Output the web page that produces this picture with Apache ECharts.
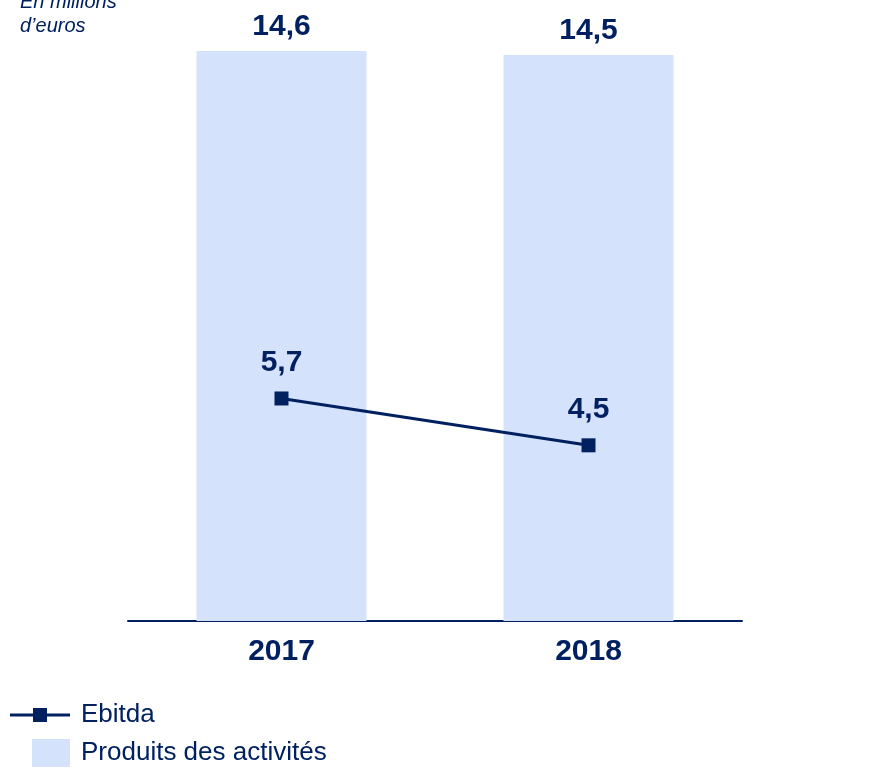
<!DOCTYPE html>
<html>
<head>
<meta charset="utf-8">
<script src="https://cdn.jsdelivr.net/npm/echarts@6/dist/echarts.min.js"></script>
<style>
  html, body { margin: 0; padding: 0; background: #fff; }
  #chart { width: 879px; height: 770px; }
</style>
</head>
<body>
<div id="chart"></div>
<script>
// Chiffres clés, en millions d'euros
const years = ['2017', '2018'];
const produits = [14.6, 14.5];
const ebitda = [5.7, 4.5];

const NAVY = '#002060';
const LIGHT = '#D5E2FB';
const FONT = '"Liberation Sans", Arial, sans-serif';

const fmt = v => String(v.toFixed(1)).replace('.', ',');

const chart = echarts.init(document.getElementById('chart'));
chart.setOption({
  animation: false,
  textStyle: { fontFamily: FONT },
  graphic: [{
    type: 'text',
    left: 20,
    top: -10,
    style: {
      text: 'En millions\nd\u2019euros',
      font: 'italic 20px ' + FONT,
      lineHeight: 24,
      fill: NAVY
    }
  }],
  legend: [{
    data: [{
      name: 'Ebitda',
      // line with a square marker in its middle
      icon: 'path://M0,5.5h60v3H0z M23,0h14v14H23z'
    }],
    left: 5,
    top: 697,
    itemWidth: 60,
    itemHeight: 14,
    textStyle: { color: NAVY, fontSize: 26, fontFamily: FONT, padding: [0, 0, 0, 6] }
  }, {
    data: [{ name: 'Produits des activités', icon: 'rect' }],
    left: 27,
    top: 734,
    itemWidth: 38,
    itemHeight: 28,
    textStyle: { color: NAVY, fontSize: 26, fontFamily: FONT, padding: [2, 0, 0, 6] }
  }],
  grid: { left: 128, right: 137, top: 35.4, bottom: 149 },
  xAxis: {
    type: 'category',
    data: years,
    axisLine: { lineStyle: { color: NAVY, width: 2 } },
    axisTick: { show: false },
    axisLabel: { color: NAVY, fontSize: 30, fontWeight: 'bold', margin: 16, fontFamily: FONT }
  },
  yAxis: {
    type: 'value',
    min: 0,
    max: 15,
    show: false,
    splitLine: { show: false }
  },
  series: [{
    name: 'Produits des activités',
    type: 'bar',
    data: produits,
    barWidth: 170,
    itemStyle: { color: LIGHT },
    label: {
      show: true,
      position: 'top',
      distance: 9,
      color: NAVY,
      fontSize: 30,
      fontWeight: 'bold',
      fontFamily: FONT,
      formatter: p => fmt(p.value)
    },
    z: 1
  }, {
    name: 'Ebitda',
    type: 'line',
    data: ebitda,
    symbol: 'rect',
    symbolSize: 14,
    lineStyle: { color: NAVY, width: 3 },
    itemStyle: { color: NAVY },
    label: {
      show: true,
      position: 'top',
      distance: 14,
      color: NAVY,
      fontSize: 30,
      fontWeight: 'bold',
      fontFamily: FONT,
      formatter: p => fmt(p.value)
    },
    z: 3
  }]
});
</script>
</body>
</html>
